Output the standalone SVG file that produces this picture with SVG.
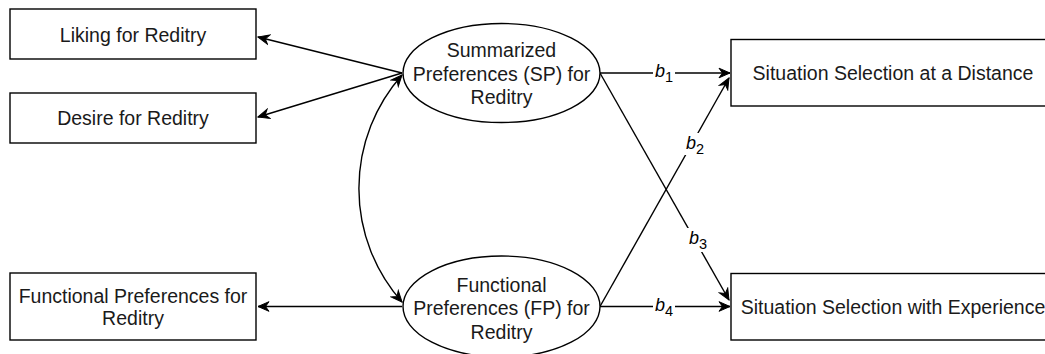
<svg xmlns="http://www.w3.org/2000/svg" width="1045" height="354" viewBox="0 0 1045 354">
  <style>
    .box { fill: #ffffff; stroke: #000000; stroke-width: 1.4; }
    .lbl { font-family: "Liberation Sans", Arial, sans-serif; font-size: 19.5px; fill: #1a1a1a; text-anchor: middle; }
    .edge { fill: none; stroke: #000000; stroke-width: 1.4; }
    .coef { font-family: "Liberation Sans", Arial, sans-serif; font-size: 18px; fill: #000000; text-anchor: middle; }
    .coef .b { font-style: italic; }
    .coef .sub { font-size: 14.5px; }
    .gap { fill: #ffffff; stroke: none; }
  </style>
  <defs>
    <marker id="arrow" markerUnits="userSpaceOnUse" markerWidth="14" markerHeight="12" refX="12" refY="6" orient="auto-start-reverse" viewBox="0 0 14 12">
      <path d="M12,6 L1,1.2 L4.5,6 L1,10.8 Z" fill="#000000" stroke="#000000" stroke-width="1"/>
    </marker>
  </defs>

  <rect width="1045" height="354" fill="#ffffff"/>

  <!-- connectors -->
  <g id="connectors">
    <path class="edge" d="M402,73 L258,37" marker-end="url(#arrow)"/>
    <path class="edge" d="M402,73 L258,117" marker-end="url(#arrow)"/>
    <path class="edge" d="M402,75 A171,171 0 0 0 402,302" marker-start="url(#arrow)" marker-end="url(#arrow)"/>
    <path class="edge" d="M402,306.5 L258,306.5" marker-end="url(#arrow)"/>

    <path class="edge" d="M600,73 L730,73" marker-end="url(#arrow)"/>
    <path class="edge" d="M600,306.5 L729,78" marker-end="url(#arrow)"/>
    <path class="edge" d="M600,73 L729,300" marker-end="url(#arrow)"/>
    <path class="edge" d="M600,306.5 L730,306.5" marker-end="url(#arrow)"/>

    <!-- path coefficients -->
    <g id="label-b1">
      <rect class="gap" x="653" y="63" width="22" height="20"/>
      <text class="coef" x="664" y="77"><tspan class="b">b</tspan><tspan class="sub" dy="5">1</tspan></text>
    </g>
    <g id="label-b2">
      <rect class="gap" x="683" y="133" width="24" height="22"/>
      <text class="coef" x="695" y="149"><tspan class="b">b</tspan><tspan class="sub" dy="5">2</tspan></text>
    </g>
    <g id="label-b3">
      <rect class="gap" x="686" y="228" width="24" height="24"/>
      <text class="coef" x="698" y="243.5"><tspan class="b">b</tspan><tspan class="sub" dy="5">3</tspan></text>
    </g>
    <g id="label-b4">
      <rect class="gap" x="653" y="296.5" width="22" height="20"/>
      <text class="coef" x="664" y="311"><tspan class="b">b</tspan><tspan class="sub" dy="5">4</tspan></text>
    </g>
  </g>

  <!-- indicator boxes -->
  <g id="liking">
    <rect class="box" x="10" y="9" width="246" height="50"/>
    <text class="lbl" x="133" y="41.5">Liking for Reditry</text>
  </g>
  <g id="desire">
    <rect class="box" x="10" y="93" width="246" height="50"/>
    <text class="lbl" x="133" y="125">Desire for Reditry</text>
  </g>
  <g id="functional-indicator">
    <rect class="box" x="10" y="273" width="246" height="67"/>
    <text class="lbl" x="133" y="302.5">Functional Preferences for</text>
    <text class="lbl" x="133" y="325">Reditry</text>
  </g>

  <!-- latent variables -->
  <g id="sp">
    <ellipse class="box" cx="501.5" cy="73" rx="98.5" ry="49.5"/>
    <text class="lbl" x="501.5" y="57">Summarized</text>
    <text class="lbl" x="501.5" y="80.5">Preferences (SP) for</text>
    <text class="lbl" x="501.5" y="104">Reditry</text>
  </g>
  <g id="fp">
    <ellipse class="box" cx="501.5" cy="306.5" rx="98.5" ry="50.5"/>
    <text class="lbl" x="501.5" y="291.5">Functional</text>
    <text class="lbl" x="501.5" y="315">Preferences (FP) for</text>
    <text class="lbl" x="501.5" y="338.5">Reditry</text>
  </g>

  <!-- outcomes -->
  <g id="distance">
    <rect class="box" x="731" y="39.5" width="324" height="66.5"/>
    <text class="lbl" x="893" y="80">Situation Selection at a Distance</text>
  </g>
  <g id="experience">
    <rect class="box" x="731" y="273.5" width="324" height="66.5"/>
    <text class="lbl" x="893" y="313.5">Situation Selection with Experience</text>
  </g>
</svg>
